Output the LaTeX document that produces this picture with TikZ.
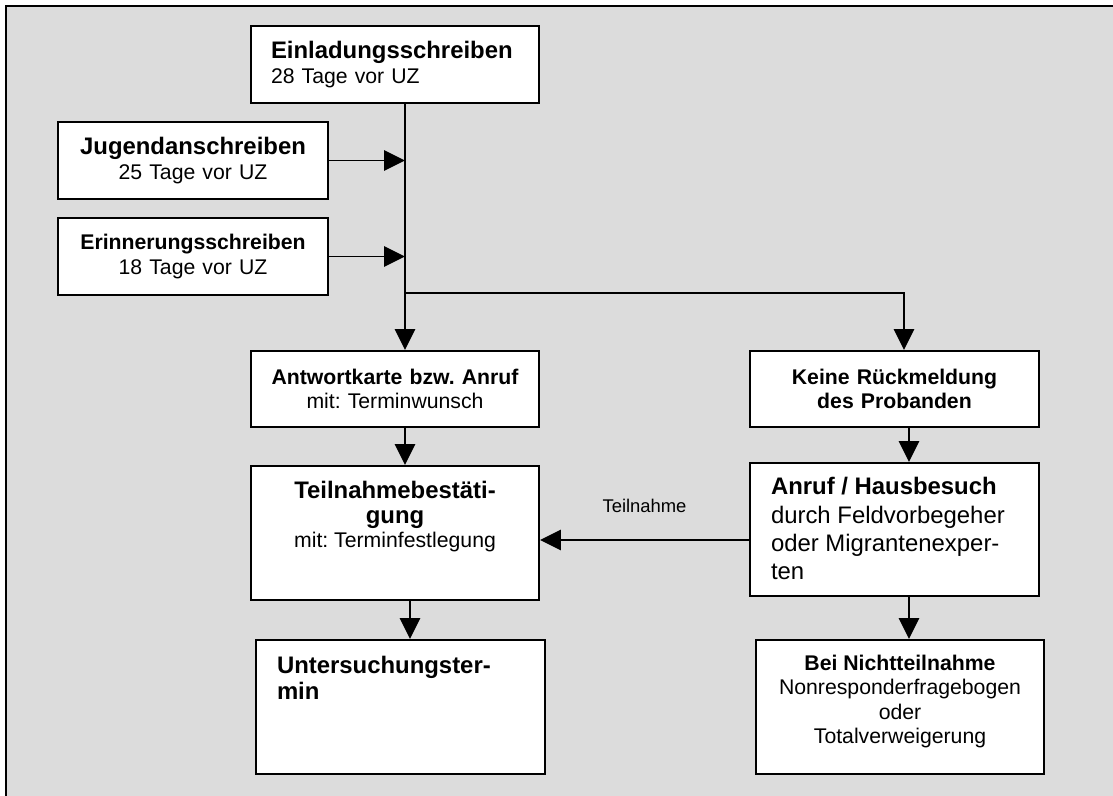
\documentclass[tikz,border=0pt]{standalone}
\usepackage{fontspec}
\setmainfont{Liberation Sans}
\usepackage{tikz}
\usetikzlibrary{arrows.meta}
\definecolor{paneelgrau}{RGB}{220,220,220}
\newcommand{\grossschrift}{\fontsize{17}{19}\selectfont}
\newcommand{\mittelschrift}{\fontsize{15.1}{17.5}\selectfont}
\frenchspacing

\begin{document}
\begin{tikzpicture}[
    box/.style={rectangle,draw=black,fill=white,line width=1.4pt,inner sep=0pt,font=\mittelschrift},
    arr/.style={-{Triangle[length=5.25mm,width=5.1mm]},line width=1.4pt}
]
    \useasboundingbox (0,0) rectangle (27.825,-19.9);
    % Hintergrund und Rahmen
    \fill[paneelgrau] (0.15,-0.15) rectangle (27.825,-19.9);
    \draw[line width=1.4pt] (0.15,-19.9) -- (0.15,-0.15) -- (27.825,-0.15);

    % Hilfspunkte fuer die Verbindungen
    \coordinate (sp) at (10.125,0);
    \coordinate (sp2) at (10.25,0);
    \coordinate (rsp) at (22.6,0);
    \coordinate (rsp2) at (22.725,0);
    \coordinate (fork) at (10.125,-7.325);
    \coordinate (tn) at (0,-13.5);

    % Anschreiben
    \node[box,minimum width=7.2cm,minimum height=1.925cm,text width=6.2cm,align=left] (einl) at (9.875,-1.6125)
        {{\grossschrift\bfseries Einladungsschreiben}\\28 Tage vor UZ};
    \node[box,minimum width=6.75cm,minimum height=1.925cm,text width=6.4cm,align=center] (jug) at (4.825,-4.0125)
        {{\grossschrift\bfseries Jugendanschreiben}\\25 Tage vor UZ};
    \node[box,minimum width=6.75cm,minimum height=1.925cm,text width=6.4cm,align=center] (erin) at (4.825,-6.4125)
        {{\bfseries Erinnerungsschreiben}\\18 Tage vor UZ};

    % linker Zweig
    \node[box,minimum width=7.2cm,minimum height=1.9cm,text width=6.8cm,align=center] (antw) at (9.875,-9.725)
        {{\bfseries Antwortkarte bzw. Anruf}\\mit: Terminwunsch};
    \node[box,minimum width=7.2cm,minimum height=3.35cm] (teil) at (9.875,-13.325)
        {\parbox[c][3.35cm][t]{6.8cm}{\vspace{11pt}\centering{\grossschrift\bfseries Teilnahmebestäti-\\gung}\\mit: Terminfestlegung}};
    \node[box,minimum width=7.225cm,minimum height=3.35cm] (unters) at (10.0125,-17.675)
        {\parbox[c][3.35cm][t]{6.175cm}{\vspace{11.3pt}\raggedright\grossschrift\bfseries Untersuchungster-\\min}};

    % rechter Zweig
    \node[box,minimum width=7.225cm,minimum height=1.9cm,text width=6.8cm,align=center] (keine) at (22.3625,-9.725)
        {\bfseries Keine Rückmeldung\\des Probanden};
    \node[box,minimum width=7.225cm,minimum height=3.325cm] (anruf) at (22.3625,-13.2375)
        {\parbox[c][3.325cm][t]{6.175cm}{\vspace{10.4pt}\raggedright\fontsize{17}{20}\selectfont{\bfseries Anruf / Hausbesuch}\\durch Feldvorbegeher\\oder Migrantenexper-\\ten}};
    \node[box,minimum width=7.2cm,minimum height=3.35cm] (bei) at (22.5,-17.675)
        {\parbox[c][3.35cm][t]{6.8cm}{\vspace{10.5pt}\centering{\bfseries Bei Nichtteilnahme}\\Nonresponderfragebogen\\oder\\Totalverweigerung}};

    % Verbindungen
    \draw[arr] (einl.south -| sp) -- (antw.north -| sp);
    \draw[arr] (jug.east) -- (jug.east -| sp);
    \draw[arr] (erin.east) -- (erin.east -| sp);
    \draw[arr] (fork) -| (keine.north -| rsp);
    \draw[arr] (antw.south -| sp) -- (teil.north -| sp);
    \draw[arr] (teil.south -| sp2) -- (unters.north -| sp2);
    \draw[arr] (keine.south -| rsp2) -- (anruf.north -| rsp2);
    \draw[arr] (anruf.south -| rsp2) -- (bei.north -| rsp2);
    \draw[arr] (anruf.west |- tn) -- (teil.east |- tn)
        node[midway,yshift=0.85cm,font=\fontsize{13.1}{15}\selectfont] (tnlabel) {Teilnahme};
\end{tikzpicture}
\end{document}
